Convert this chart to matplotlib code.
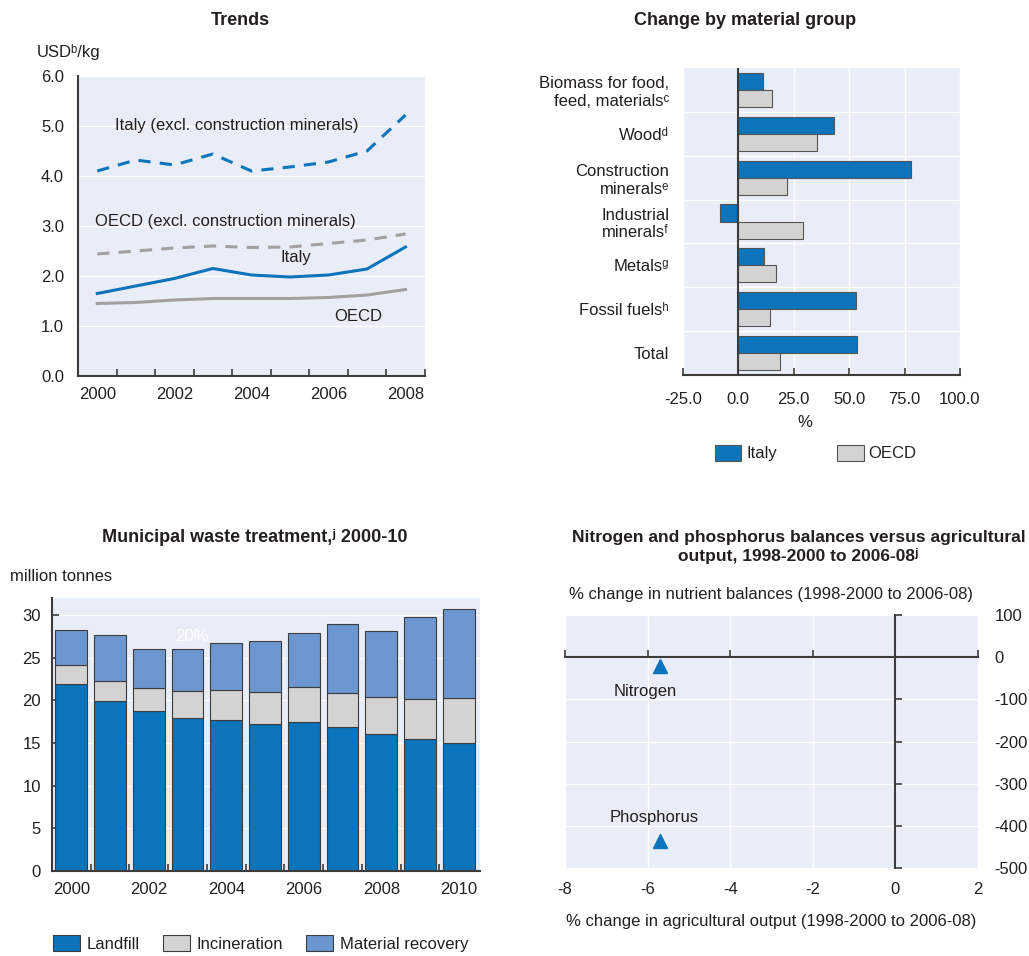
import matplotlib
matplotlib.use('Agg')
import matplotlib.pyplot as plt
import numpy as np

plt.rcParams['font.family'] = ['Liberation Sans Narrow', 'Liberation Sans', 'DejaVu Sans']
plt.rcParams['text.color'] = '#231f20'
plt.rcParams['axes.labelcolor'] = '#231f20'
plt.rcParams['xtick.color'] = '#231f20'
plt.rcParams['ytick.color'] = '#231f20'
plt.rcParams['axes.unicode_minus'] = False

BLUE = '#0b74bb'
GREY = '#d3d3d3'
LIGHTBLUE = '#6b96cf'
BG = '#e9edf7'
EDGE = '#3c3c3c'
FS = 12

# --- Trends ---
trend_years = np.arange(2000, 2009)
italy_excl = [4.10, 4.32, 4.22, 4.44, 4.10, 4.18, 4.28, 4.50, 5.22]
oecd_excl = [2.44, 2.50, 2.56, 2.60, 2.57, 2.58, 2.65, 2.72, 2.84]
italy_dmc = [1.65, 1.80, 1.95, 2.15, 2.02, 1.98, 2.02, 2.14, 2.58]
oecd_dmc = [1.45, 1.47, 1.52, 1.55, 1.55, 1.55, 1.57, 1.62, 1.73]

# --- Change by material group ---
groups = ['Biomass for food,\nfeed, materials\u1d9c', 'Wood\u1d48', 'Construction\nminerals\u1d49',
          'Industrial\nminerals\u1da0', 'Metals\u1d4d', 'Fossil fuels\u02b0', 'Total']
change_italy = [11.3, 43.0, 77.8, -8.1, 11.8, 52.9, 53.4]
change_oecd = [15.0, 35.7, 22.0, 29.0, 17.0, 14.4, 18.9]

# --- Municipal waste ---
waste_years = np.arange(2000, 2011)
landfill = np.array([21.9, 19.9, 18.8, 17.95, 17.7, 17.2, 17.5, 16.85, 16.0, 15.5, 15.0])
incin_top = np.array([24.1, 22.3, 21.5, 21.15, 21.2, 20.96, 21.6, 20.9, 20.4, 20.2, 20.3])
total_waste = np.array([28.3, 27.65, 26.0, 26.05, 26.7, 26.9, 27.85, 29.0, 28.1, 29.8, 30.7])
incineration = incin_top - landfill
recovery = total_waste - incin_top

# --- Nutrient balances ---
nutrients = ['Nitrogen', 'Phosphorus']
agri_output = [-5.7, -5.7]
nutrient_change = [-20, -435]

fig = plt.figure(figsize=(10.29, 9.56), dpi=100)


def style_bg(ax):
    ax.set_facecolor(BG)
    for s in ax.spines.values():
        s.set_visible(False)


# ---------------- Panel 1 ----------------
ax1 = fig.add_axes([0.0758, 0.6067, 0.337, 0.3138])
style_bg(ax1)
for side in ['left', 'bottom']:
    ax1.spines[side].set_visible(True)
    ax1.spines[side].set_color(EDGE)
    ax1.spines[side].set_linewidth(1.5)
ax1.plot(trend_years, italy_excl, color=BLUE, lw=2.2, ls=(0, (4, 3)))
ax1.plot(trend_years, oecd_excl, color='#a0a0a0', lw=2.2, ls=(0, (4, 3)))
ax1.plot(trend_years, italy_dmc, color=BLUE, lw=2.2)
ax1.plot(trend_years, oecd_dmc, color='#a0a0a0', lw=2.2)
ax1.set_xlim(1999.5, 2008.5)
ax1.set_ylim(0, 6)
ax1.set_yticks(np.arange(0, 6.01, 1.0))
ax1.set_yticklabels([f'{v:.1f}' for v in np.arange(0, 6.01, 1.0)])
ax1.set_xticks(np.arange(2000, 2009, 2))
ax1.set_xticks(np.arange(2000.5, 2008.6, 1), minor=True)
ax1.tick_params(axis='x', which='major', length=0, labelsize=FS, pad=8)
ax1.tick_params(axis='x', which='minor', length=5, direction='in', width=1.2, color=EDGE)
ax1.tick_params(axis='y', length=0, labelsize=FS, pad=10)
ax1.grid(axis='y', color='white', lw=1)
ax1.set_axisbelow(True)
ax1.text(2000.46, 5.02, 'Italy (excl. construction minerals)', fontsize=FS, va='center')
ax1.text(1999.94, 3.08, 'OECD (excl. construction minerals)', fontsize=FS, va='center')
ax1.text(2004.76, 2.36, 'Italy', fontsize=FS, va='center')
ax1.text(2006.14, 1.18, 'OECD', fontsize=FS, va='center')
fig.text(0.0355, 0.946, 'USD\u1d47/kg', fontsize=FS, va='center')
fig.text(0.234, 0.979, 'Trends', fontsize=13, fontweight='bold', ha='center', va='center')

# ---------------- Panel 2 ----------------
ax2 = fig.add_axes([0.6637, 0.6077, 0.2692, 0.3212])
style_bg(ax2)
ax2.spines['bottom'].set_visible(True)
ax2.spines['bottom'].set_color(EDGE)
ax2.spines['bottom'].set_linewidth(1.5)
ypos = np.arange(len(groups))
bh = 0.39
ax2.barh(ypos - bh / 2, change_italy, height=bh, color=BLUE, edgecolor='#555555', lw=0.8, label='Italy')
ax2.barh(ypos + bh / 2, change_oecd, height=bh, color=GREY, edgecolor='#555555', lw=0.8, label='OECD')
ax2.axvline(0, color=EDGE, lw=1.5)
ax2.set_xlim(-25, 100)
ax2.set_ylim(6.5, -0.5)
ax2.set_yticks(ypos)
ax2.set_yticklabels(groups, fontsize=FS)
ax2.set_yticks(np.arange(0.5, 6, 1), minor=True)
ax2.tick_params(axis='y', which='both', length=0, pad=10)
ax2.set_xticks([-25, 0, 25, 50, 75, 100])
ax2.set_xticklabels(['-25.0', '0.0', '25.0', '50.0', '75.0', '100.0'])
ax2.tick_params(axis='x', length=5, direction='in', width=1.2, color=EDGE, labelsize=FS, pad=12)
ax2.grid(axis='y', which='minor', color='white', lw=1)
ax2.grid(axis='x', which='major', color='white', lw=1)
ax2.set_axisbelow(True)
ax2.set_xlabel('%', fontsize=FS, labelpad=2)
ax2.xaxis.set_label_coords(0.44, -0.13)
ax2.legend(loc='upper left', bbox_to_anchor=(0.09, -0.205), ncol=2, frameon=False, fontsize=FS,
           handlelength=1.6, handleheight=1.1, columnspacing=3.6, handletextpad=0.3,
           borderaxespad=0)
fig.text(0.724, 0.979, 'Change by material group', fontsize=13, fontweight='bold', ha='center', va='center')

# ---------------- Panel 3 ----------------
ax3 = fig.add_axes([0.0505, 0.0889, 0.416, 0.2856])
style_bg(ax3)
for side in ['left', 'bottom']:
    ax3.spines[side].set_visible(True)
    ax3.spines[side].set_color(EDGE)
    ax3.spines[side].set_linewidth(1.5)
bw = 0.82
ax3.bar(waste_years, landfill, width=bw, color=BLUE, edgecolor=EDGE, lw=0.8, label='Landfill')
ax3.bar(waste_years, incineration, width=bw, bottom=landfill, color=GREY, edgecolor=EDGE, lw=0.8,
        label='Incineration')
ax3.bar(waste_years, recovery, width=bw, bottom=incin_top, color=LIGHTBLUE, edgecolor=EDGE, lw=0.8,
        label='Material recovery')
ax3.set_xlim(1999.5, 2010.55)
ax3.set_ylim(0, 32)
ax3.set_yticks(np.arange(0, 31, 5))
ax3.tick_params(axis='y', length=5, direction='in', width=1.2, color=EDGE, labelsize=FS, pad=8)
ax3.set_xticks(np.arange(2000, 2011, 2))
ax3.set_xticks(np.arange(2000.5, 2010, 1), minor=True)
ax3.tick_params(axis='x', which='major', length=0, labelsize=FS, pad=8)
ax3.tick_params(axis='x', which='minor', length=5, direction='in', width=1.2, color=EDGE)
ax3.grid(axis='y', color='white', lw=1)
ax3.set_axisbelow(True)
ax3.text(2003.1, 27.5, '20%', color='white', fontsize=FS, ha='center', va='center')
ax3.legend(loc='upper left', bbox_to_anchor=(-0.012, -0.21), ncol=3, frameon=False, fontsize=FS,
           handlelength=1.6, handleheight=1.1, columnspacing=1.4, handletextpad=0.4, borderaxespad=0)
fig.text(0.010, 0.397, 'million tonnes', fontsize=FS, va='center')
fig.text(0.248, 0.438, 'Municipal waste treatment,\u02b2 2000-10', fontsize=13, fontweight='bold',
         ha='center', va='center')

# ---------------- Panel 4 ----------------
ax4 = fig.add_axes([0.549, 0.092, 0.4014, 0.2647])
style_bg(ax4)
for side in ['left', 'bottom']:
    ax4.spines[side].set_visible(True)
    ax4.spines[side].set_color(EDGE)
    ax4.spines[side].set_linewidth(1.5)
ax4.spines['bottom'].set_position(('data', 0))
ax4.spines['left'].set_position(('data', 0))
ax4.plot(agri_output, nutrient_change, ls='none', marker='^', ms=10, color=BLUE)
ax4.set_xlim(-8, 2)
ax4.set_ylim(-500, 100)
ax4.set_xticks(np.arange(-8, 3, 2))
ax4.set_yticks(np.arange(-500, 101, 100))
ax4.tick_params(axis='both', length=5, direction='in', width=1.2, color=EDGE,
                labelbottom=False, labelleft=False)
ax4.grid(color='white', lw=1)
ax4.set_axisbelow(True)
secx = ax4.secondary_xaxis('bottom')
secx.set_xticks(np.arange(-8, 3, 2))
secx.tick_params(length=0, labelsize=FS, pad=10)
secx.spines['bottom'].set_visible(False)
secx.set_xlabel('% change in agricultural output (1998-2000 to 2006-08)', fontsize=FS, labelpad=12)
secy = ax4.secondary_yaxis('right')
secy.set_yticks(np.arange(-500, 101, 100))
secy.tick_params(length=0, labelsize=FS, pad=12)
secy.spines['right'].set_visible(False)
ax4.text(-6.06, -82, nutrients[0], fontsize=FS, ha='center', va='center')
ax4.text(-5.85, -381, nutrients[1], fontsize=FS, ha='center', va='center')
ax4.text(0.5, 1.08, '% change in nutrient balances (1998-2000 to 2006-08)', transform=ax4.transAxes,
         fontsize=FS, ha='center', va='center')
fig.text(0.776, 0.428, 'Nitrogen and phosphorus balances versus agricultural\noutput, 1998-2000 to 2006-08\u02b2',
         fontsize=12.5, fontweight='bold', ha='center', va='center', linespacing=1.2)

fig.savefig('out.png', dpi=100)
